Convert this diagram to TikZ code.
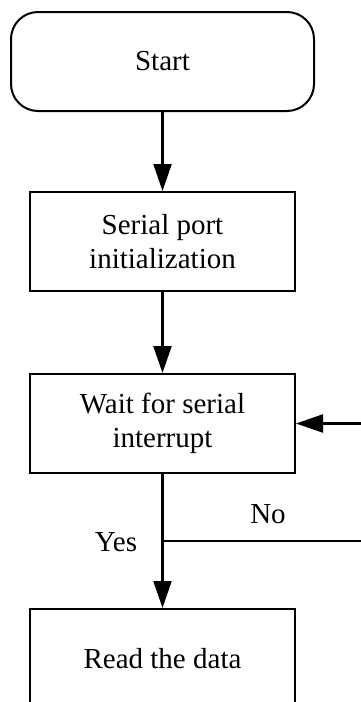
\documentclass[tikz,border=0pt]{standalone}
\usepackage{fontspec}
\setmainfont{Liberation Serif}
\usetikzlibrary{arrows.meta}
\begin{document}
\begin{tikzpicture}[x=1pt,y=-1pt,
 box/.style={draw, line width=2pt, minimum width=265pt, minimum height=99pt, inner sep=0pt, align=center, font=\fontsize{29}{34.5}\selectfont},
 term/.style={box, rounded corners=27pt, minimum width=303pt},
 lbl/.style={font=\fontsize{29}{34.5}\selectfont, inner sep=0pt},
 flow/.style={line width=2.2pt, -{Triangle[length=27pt,width=18pt]}},
 plain/.style={line width=2.2pt}]
\clip (0,0) rectangle (361,702);
\node[term] (start) at (162.5,61.5) {Start};
\node[box] (init) at (162.5,241.5) {Serial port\\initialization};
\node[box] (wait) at (162.5,423.5) {Wait for serial\\interrupt};
\node[box] (read) at (162.5,658.5) {Read the data};
\coordinate (split) at (162.5,541);
\coordinate (rightend) at (361,541);
\coordinate (backin) at (361,423.5);
\draw[flow] (start) -- (init);
\draw[flow] (init) -- (wait);
\draw[flow] (wait) -- (read);
\draw[plain] (split) -- (rightend);
\draw[flow] (backin) -- (wait);
\node[lbl] (yes) at (116,542) {Yes};
\node[lbl] (no) at (268,514) {No};
\end{tikzpicture}
\end{document}
